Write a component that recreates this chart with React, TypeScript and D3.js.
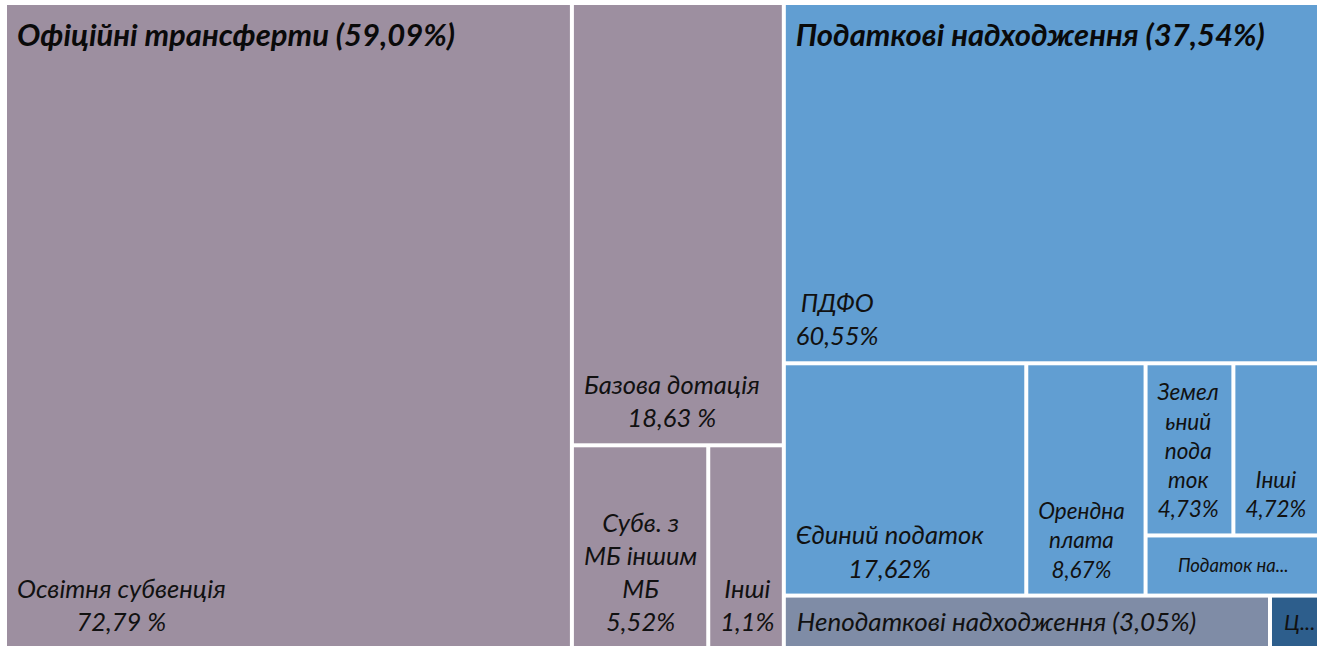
import React, { useEffect, useRef } from "react";
import * as d3 from "d3";

// ---- data ----
const groupNames = ["Офіційні трансферти", "Податкові надходження", "Неподаткові надходження", "Ц..."];
const groupShares = [59.09, 37.54, 3.05, 0.32];
const groupLabels = ["(59,09%)", "(37,54%)", "(3,05%)", ""];

const transferNames = ["Освітня субвенція", "Базова дотація", "Субв. з МБ іншим МБ", "Інші"];
const transferShares = [72.79, 18.63, 5.52, 3.06];
const transferLines = [
  ["Освітня субвенція", "72,79 %"],
  ["Базова дотація", "18,63 %"],
  ["Субв. з", "МБ іншим", "МБ", "5,52%"],
  ["Інші", "1,1%"],
];

const taxNames = ["ПДФО", "Єдиний податок", "Орендна плата", "Земельний податок", "Інші", "Податок на..."];
const taxShares = [60.55, 17.62, 8.67, 4.73, 4.72, 3.3];
const taxLines = [
  ["ПДФО", "60,55%"],
  ["Єдиний податок", "17,62%"],
  ["Орендна", "плата", "8,67%"],
  ["Земел", "ьний", "пода", "ток", "4,73%"],
  ["Інші", "4,72%"],
  ["Податок на..."],
];

const groupColors = ["#9d8fa0", "#619ed2", "#7f8ca6", "#2d5e8c"];

type Node = { name: string; value?: number; lines?: string[]; group: number; children?: Node[]; small?: boolean; title?: string };

function buildTree(): Node {
  const children: Node[] = [];
  children.push({
    name: groupNames[0],
    group: 0,
    title: groupNames[0] + " " + groupLabels[0],
    children: transferNames.map((n, i) => ({
      name: n,
      group: 0,
      value: (groupShares[0] * transferShares[i]) / 100,
      lines: transferLines[i],
    })),
  });
  children.push({
    name: groupNames[1],
    group: 1,
    title: groupNames[1] + " " + groupLabels[1],
    children: taxNames.map((n, i) => ({
      name: n,
      group: 1,
      value: (groupShares[1] * taxShares[i]) / 100,
      lines: taxLines[i],
      small: i === taxNames.length - 1,
    })),
  });
  children.push({
    name: groupNames[2],
    group: 2,
    value: groupShares[2],
    lines: [groupNames[2] + " " + groupLabels[2]],
    small: false,
  });
  children.push({ name: groupNames[3], group: 3, value: groupShares[3], lines: [groupNames[3]] });
  return { name: "root", group: -1, children };
}

const W = 1317;
const H = 646;
const X0 = 7;
const Y0 = 5;
const X1 = 1319;
const Y1 = 647;

export default function App() {
  const ref = useRef<SVGSVGElement>(null);
  useEffect(() => {
    const svg = d3.select(ref.current);
    svg.selectAll("*").remove();
    const root = d3
      .hierarchy<Node>(buildTree())
      .sum((d) => (d.children ? 0 : d.value || 0))
      .sort((a, b) => (b.value || 0) - (a.value || 0));
    d3
      .treemap<Node>()
      .tile(d3.treemapSquarify.ratio(1))
      .size([X1 - X0, Y1 - Y0])
      .paddingInner(4)(root);

    const g = svg.append("g").attr("transform", `translate(${X0},${Y0})`);
    const font = "Lato, 'Open Sans', sans-serif";

    const leaves = root.leaves() as d3.HierarchyRectangularNode<Node>[];
    g.selectAll("rect.leaf")
      .data(leaves)
      .join("rect")
      .attr("class", "leaf")
      .attr("x", (d) => d.x0)
      .attr("y", (d) => d.y0)
      .attr("width", (d) => d.x1 - d.x0)
      .attr("height", (d) => d.y1 - d.y0)
      .attr("fill", (d) => groupColors[d.data.group]);

    // leaf labels
    leaves.forEach((d) => {
      const lines = d.data.lines || [];
      const depth1 = d.depth === 1;
      const narrow = d.data.group === 1 && d.x1 - d.x0 < 120;
      const tiny = d.data.group === 3;
      const fs = d.data.small ? 18.5 : tiny ? 22 : depth1 ? 26 : narrow ? 22.5 : 25.5;
      const lh = fs * 1.3;
      const t = g
        .append("text")
        .attr("font-family", font)
        .attr("font-style", "italic")
        .attr("font-size", fs)
        .attr("fill", "#111")
        .attr("text-anchor", "middle");
      const tspans = lines.map((l) => t.append("tspan").text(l));
      let maxW = 0;
      tspans.forEach((ts) => {
        const n = ts.node() as SVGTSpanElement;
        maxW = Math.max(maxW, n.getComputedTextLength());
      });
      const cw = d.x1 - d.x0;
      let cx: number;
      let lastBase: number;
      if (d.data.small) {
        cx = (d.x0 + d.x1) / 2;
        lastBase = (d.y0 + d.y1) / 2 + fs * 0.33;
      } else if (depth1) {
        cx = d.x0 + (tiny ? 12 : 11) + maxW / 2;
        lastBase = (d.y0 + d.y1) / 2 + fs * 0.35;
      } else {
        cx = maxW > cw - 16 ? (d.x0 + d.x1) / 2 : d.x0 + 10 + maxW / 2;
        lastBase = d.y1 - 16;
      }
      tspans.forEach((ts, i) => {
        ts.attr("x", cx).attr("y", lastBase - (lines.length - 1 - i) * lh);
      });
    });

    // group titles
    const groups = (root.children || []).filter((c) => c.data.title) as d3.HierarchyRectangularNode<Node>[];
    g.selectAll("text.title")
      .data(groups)
      .join("text")
      .attr("class", "title")
      .attr("x", (d) => d.x0 + 10)
      .attr("y", (d) => d.y0 + 41)
      .attr("font-family", font)
      .attr("font-style", "italic")
      .attr("font-weight", "bold")
      .attr("font-size", 31)
      .attr("fill", "#0a0a0a")
      .text((d) => d.data.title || "");
  }, []);

  return (
    <svg
      ref={ref}
      width={W}
      height={H}
      style={{ position: "absolute", left: 0, top: 0, background: "#fff", display: "block" }}
    />
  );
}
